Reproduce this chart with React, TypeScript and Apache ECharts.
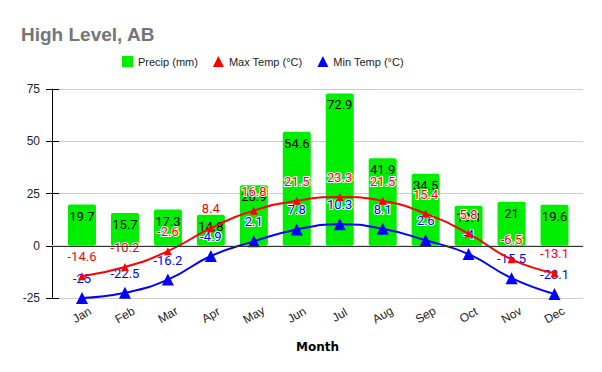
import React, { useEffect, useRef } from "react";
import * as echarts from "echarts";

const months = ["Jan", "Feb", "Mar", "Apr", "May", "Jun", "Jul", "Aug", "Sep", "Oct", "Nov", "Dec"];
const precip = [19.7, 15.7, 17.3, 14.8, 28.9, 54.6, 72.9, 41.9, 34.5, 19.1, 21, 19.6];
const maxTemp = [-14.6, -10.2, -2.6, 8.4, 16.8, 21.5, 23.3, 21.5, 15.4, 5.8, -6.5, -13.1];
const minTemp = [-25, -22.5, -16.2, -4.9, 2.1, 7.8, 10.3, 8.1, 2.6, -4, -15.5, -23.1];
const yMin = -25;
const yMax = 75;
const yStep = 25;

export default function App() {
  const ref = useRef<HTMLDivElement>(null);
  useEffect(() => {
    document.body.style.margin = "0";
    if (!ref.current) return;
    const chart = echarts.init(ref.current, null, { renderer: "svg" });
    const valFont = "Roboto";
    const sans = "'Liberation Sans', Arial, sans-serif";
    chart.setOption({
      animation: false,
      title: {
        text: "High Level, AB",
        left: 16,
        top: 20,
        textStyle: { fontFamily: sans, fontSize: 19, fontWeight: "bold", color: "#757575" },
      },
      legend: {
        left: 117,
        top: 51,
        itemWidth: 11,
        itemHeight: 11,
        itemGap: 15,
        textStyle: { fontFamily: sans, fontSize: 11, color: "#222" },
        data: [
          { name: "Precip (mm)", icon: "rect" },
          { name: "Max Temp (°C)", icon: "triangle" },
          { name: "Min Temp (°C)", icon: "triangle" },
        ],
      },
      grid: [
        { left: 52, right: 19, top: 89, bottom: 74 },
        { left: 60.5, right: 26, top: 89, bottom: 74 },
      ],
      xAxis: [
        {
          type: "category",
          gridIndex: 0,
          data: [""],
          axisLine: { show: true, lineStyle: { color: "#d9d9d9", width: 2 } },
          axisTick: { show: false },
          axisLabel: { show: false },
          name: "Month",
          nameLocation: "middle",
          nameGap: 43,
          nameTextStyle: { fontFamily: "DejaVu Sans", fontWeight: "bold", fontSize: 12, color: "#000" },
        },
        {
          type: "category",
          gridIndex: 1,
          data: months,
          axisLine: { show: false },
          axisTick: { show: false },
          axisLabel: {
            rotate: 30,
            align: "center",
            verticalAlign: "middle",
            margin: 17,
            fontFamily: sans,
            fontSize: 12,
            color: "#222",
          },
        },
      ],
      yAxis: [
        {
          type: "value",
          gridIndex: 0,
          position: "left",
          min: yMin,
          max: yMax,
          interval: yStep,
          axisLine: { show: true, lineStyle: { color: "#000", width: 1 } },
          axisTick: { show: true, length: 6, lineStyle: { color: "#000" } },
          axisLabel: { fontFamily: sans, fontSize: 12, color: "#222", margin: 12 },
          splitLine: { lineStyle: { color: "#cccccc" } },
        },
        {
          type: "value",
          gridIndex: 1,
          min: yMin,
          max: yMax,
          interval: yStep,
          show: false,
          splitLine: { show: false },
        },
        {
          type: "value",
          gridIndex: 0,
          position: "left",
          offset: 0,
          min: yMin,
          max: yMax,
          interval: yStep,
          axisLine: { show: false },
          axisTick: { show: true, inside: true, length: 7, lineStyle: { color: "#000" } },
          axisLabel: { show: false },
          splitLine: { show: false },
        },
      ],
      series: [
        {
          type: "line",
          xAxisIndex: 0,
          yAxisIndex: 0,
          data: [],
          silent: true,
          markLine: {
            silent: true,
            symbol: "none",
            label: { show: false },
            lineStyle: { color: "#333", width: 1, type: "solid" },
            data: [{ yAxis: 0 }],
          },
        },
        {
          name: "Precip (mm)",
          type: "bar",
          xAxisIndex: 1,
          yAxisIndex: 1,
          data: precip,
          barWidth: 28,
          itemStyle: { color: "#00ee00", borderRadius: 2 },
          label: {
            show: true,
            position: "insideTop",
            distance: 5,
            fontFamily: valFont,
            fontSize: 13,
            color: "#000",
          },
          z: 2,
        },
        {
          name: "Max Temp (°C)",
          type: "line",
          xAxisIndex: 1,
          yAxisIndex: 1,
          data: maxTemp,
          smooth: true,
          symbol: "triangle",
          symbolSize: 8,
          itemStyle: { color: "#ff0000" },
          lineStyle: { color: "#ff0000", width: 2 },
          label: {
            show: true,
            position: "top",
            distance: 9,
            fontFamily: valFont,
            fontSize: 13,
            color: "#ff0000",
            textBorderColor: "#fff",
            textBorderWidth: 2,
          },
          z: 4,
        },
        {
          name: "Min Temp (°C)",
          type: "line",
          xAxisIndex: 1,
          yAxisIndex: 1,
          data: minTemp,
          smooth: true,
          symbol: "triangle",
          symbolSize: 12,
          itemStyle: { color: "#0000ff" },
          lineStyle: { color: "#0000ff", width: 2 },
          label: {
            show: true,
            position: "top",
            distance: 7,
            fontFamily: valFont,
            fontSize: 13,
            color: "#0000ff",
            textBorderColor: "#fff",
            textBorderWidth: 2,
          },
          z: 3,
        },
      ],
    });
    return () => chart.dispose();
  }, []);
  return <div ref={ref} style={{ width: 602, height: 372 }} />;
}
